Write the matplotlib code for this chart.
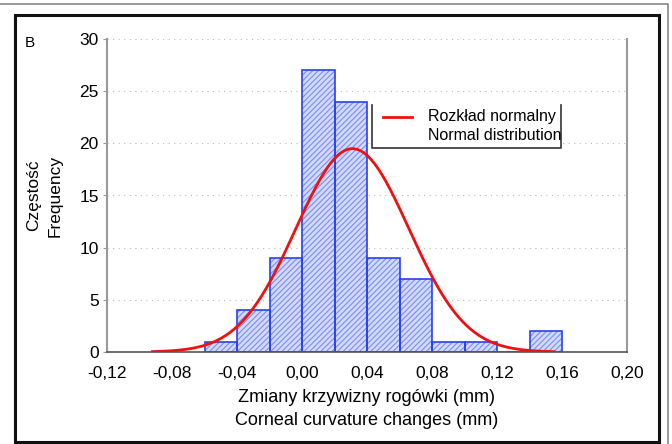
import numpy as np
import matplotlib
matplotlib.use('Agg')
import matplotlib.pyplot as plt
from matplotlib.patches import Rectangle
from matplotlib.lines import Line2D

plt.rcParams['font.family'] = ['Liberation Sans', 'DejaVu Sans']
plt.rcParams['hatch.linewidth'] = 0.9

# histogram data (bin left edges, width 0.02 mm)
bin_left = [-0.06, -0.04, -0.02, 0.00, 0.02, 0.04, 0.06, 0.08, 0.10, 0.12, 0.14]
counts = [1, 4, 9, 27, 24, 9, 7, 1, 1, 0, 2]
bin_width = 0.02

# fitted normal curve parameters
mu = 0.031
sigma = 0.0348
curve_min, curve_max = -0.092, 0.155

xticks = [-0.12, -0.08, -0.04, 0.00, 0.04, 0.08, 0.12, 0.16, 0.20]
xtick_labels = ['-0,12', '-0,08', '-0,04', '0,00', '0,04', '0,08', '0,12', '0,16', '0,20']
yticks = [0, 5, 10, 15, 20, 25, 30]

fig = plt.figure(figsize=(6.72, 4.44), dpi=100)
ax = fig.add_axes([107/672, 1-352/444, 520/672, 313/444])

ax.set_axisbelow(True)
ax.grid(axis='y', linestyle=(0, (1, 4)), color='#bbbbbb', linewidth=0.8)

# hatched fill, then blue outline
ax.bar(bin_left, counts, width=bin_width, align='edge',
       facecolor='#d3dbfd', edgecolor='#8393f6', hatch='//////', linewidth=0)
ax.bar(bin_left, counts, width=bin_width, align='edge',
       fill=False, edgecolor='#2a40f0', linewidth=1.2)

n = sum(counts)
xs = np.linspace(curve_min, curve_max, 300)
ys = n * bin_width * np.exp(-0.5 * ((xs - mu) / sigma) ** 2) / (sigma * np.sqrt(2 * np.pi))
ax.plot(xs, ys, color='#ee1111', linewidth=2)

ax.set_xlim(-0.12, 0.20)
ax.set_ylim(0, 30)
ax.set_xticks(xticks)
ax.set_xticklabels(xtick_labels, fontsize=12.5)
ax.set_yticks(yticks)
ax.set_yticklabels([str(v) for v in yticks], fontsize=12.5)
ax.tick_params(axis='x', length=0, pad=10)
ax.tick_params(axis='y', length=3, pad=3, color='#999999')

ax.spines['top'].set_visible(False)
ax.spines['left'].set_color('#999999')
ax.spines['right'].set_color('#999999')
ax.spines['left'].set_linewidth(1.5)
ax.spines['right'].set_linewidth(1.5)
ax.spines['bottom'].set_color('#555555')
ax.spines['bottom'].set_linewidth(1.2)

ax.set_xlabel('Zmiany krzywizny rogówki (mm)\nCorneal curvature changes (mm)',
              fontsize=13, linespacing=1.45, labelpad=6)
ax.set_ylabel('Częstość\nFrequency', fontsize=12.5, linespacing=1.5, labelpad=12)

# legend box drawn by hand, text clipped at right border
box = Rectangle((372/672, 1-148/444), (561-372)/672, (148-105)/444,
                transform=fig.transFigure, facecolor='white', edgecolor='none')
fig.patches.append(box)
fig.add_artist(Line2D([372/672, 372/672, 561/672, 561/672],
                      [1-105/444, 1-148/444, 1-148/444, 1-105/444],
                      transform=fig.transFigure, color='#333333', linewidth=1.2))
fig.add_artist(Line2D([383/672, 412/672], [1-117/444, 1-117/444],
                      transform=fig.transFigure, color='#ee1111', linewidth=2))
for label, yy in [('Rozkład normalny', 117), ('Normal distribution', 135)]:
    t = fig.text(428/672, 1-yy/444, label, fontsize=11.5, va='center', ha='left')
    t.set_clip_path(box)

fig.text(30/672, 1-43/444, 'B', fontsize=11, va='center', ha='center')

# frames around the panel
fig.add_artist(Rectangle((15/672, 1-442/444), (659-15)/672, (442-15)/444,
                         transform=fig.transFigure, fill=False,
                         edgecolor='#111111', linewidth=2.2))
fig.add_artist(Line2D([0, 668/672, 668/672], [1-4/444, 1-4/444, 0],
                      transform=fig.transFigure, color='#888888', linewidth=1.2))

fig.savefig('out.png', dpi=100)
